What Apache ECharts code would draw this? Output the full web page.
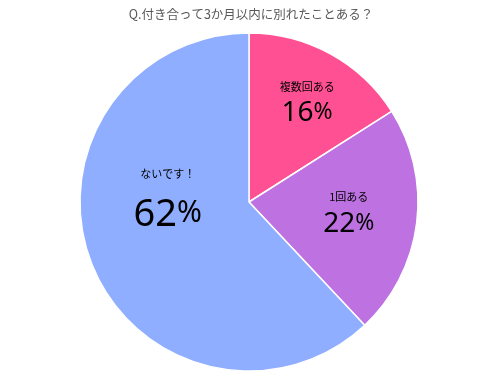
<!DOCTYPE html>
<html><head><meta charset="utf-8">
<script src="https://cdn.jsdelivr.net/npm/echarts@6/dist/echarts.min.js"></script>
<style>html,body{margin:0;padding:0;background:#fff}#c{width:502px;height:381px}</style>
</head><body><div id="c"></div>
<script>
const titleText = 'Q.付き合って3か月以内に別れたことある？';
const categories = ['複数回ある', '1回ある', 'ないです！'];
const values = [16, 22, 62];
const colors = ['#FF5093', '#BE72E2', '#90AEFF'];
const labelShift = [[16, -22], [13, 1], [0, -31]];

const FONT = '"Noto Sans CJK JP", "Noto Sans", sans-serif';
const NUMFONT = '"Noto Sans", sans-serif';
const chart = echarts.init(document.getElementById('c'), null, {renderer: 'canvas'});
const data = categories.map((c, i) => {
  const big = i === 2;
  return {
    name: c, value: values[i],
    itemStyle: {color: colors[i]},
    label: {
      rich: {
        n: {fontSize: 11, lineHeight: big ? 24 : 20, color: '#000', fontFamily: FONT},
        p: {fontSize: big ? 38 : 28, lineHeight: big ? 58 : 34, color: '#000', fontFamily: NUMFONT},
        s: {fontSize: big ? 30 : 23, lineHeight: big ? 58 : 34, color: '#000', fontFamily: NUMFONT, padding: [0, 0, big ? 3 : 2, 0]}
      }
    }
  };
});
chart.setOption({
  animation: false,
  title: {
    text: titleText, left: 'center', top: 3,
    textStyle: {fontSize: 12.5, fontWeight: 'normal', color: '#595959', fontFamily: FONT}
  },
  series: [{
    type: 'pie',
    center: [249, 202], radius: 169,
    startAngle: 90, clockwise: true,
    data: data,
    itemStyle: {borderColor: '#fff', borderWidth: 1.5},
    label: {
      position: 'inside', align: 'center',
      formatter: p => '{n|' + p.name + '}\n{p|' + p.value + '}{s|%}'
    },
    labelLine: {show: false},
    labelLayout: p => ({dx: labelShift[p.dataIndex][0], dy: labelShift[p.dataIndex][1]})
  }]
});
</script></body></html>
